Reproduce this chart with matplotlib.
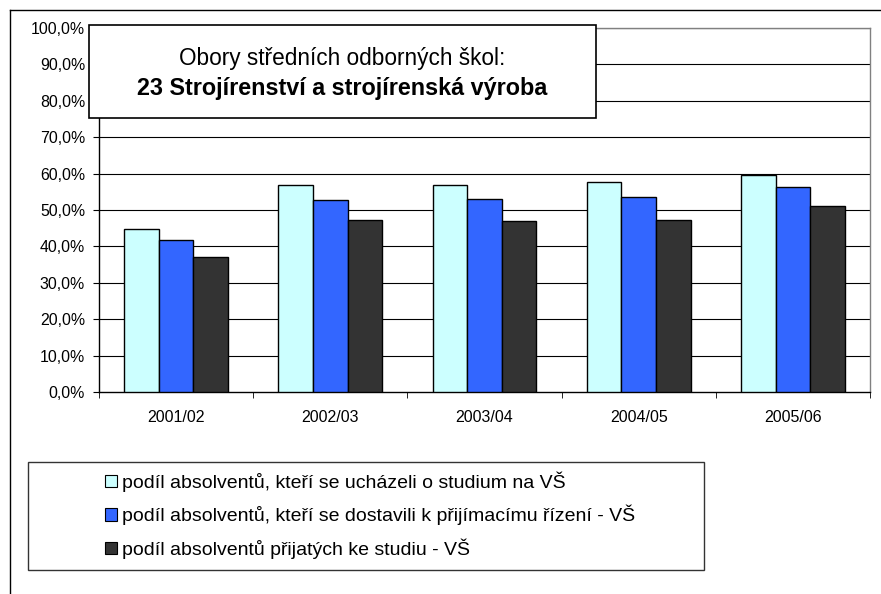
import matplotlib
matplotlib.use("Agg")
import matplotlib.pyplot as plt
from matplotlib.patches import Rectangle, Patch
from matplotlib.lines import Line2D
from matplotlib.ticker import FuncFormatter

plt.rcParams['font.family'] = ['Liberation Sans', 'DejaVu Sans']

categories = ["2001/02", "2002/03", "2003/04", "2004/05", "2005/06"]
applied = [44.9, 56.8, 56.8, 57.6, 59.7]
attended = [41.7, 52.7, 53.1, 53.5, 56.4]
admitted = [37.1, 47.3, 47.0, 47.3, 51.0]
series_labels = [
    "podíl absolventů, kteří se ucházeli o studium na VŠ",
    "podíl absolventů, kteří se dostavili k přijímacímu řízení - VŠ",
    "podíl absolventů přijatých ke studiu - VŠ",
]
colors = ["#CCFFFF", "#3366FF", "#333333"]
title1 = "Obory středních odborných škol:"
title2 = "23 Strojírenství a strojírenská výroba"

W, H = 881, 594
fig = plt.figure(figsize=(W / 100, H / 100), dpi=100)

def fx(px):
    return px / W

def fy(py):
    return 1 - py / H

ax = fig.add_axes([fx(99), fy(392), fx(870) - fx(99), fy(28) - fy(392)])
x = list(range(len(categories)))
bw = 0.224
for i, (vals, c) in enumerate(zip([applied, attended, admitted], colors)):
    ax.bar([xi + (i - 1) * bw for xi in x], vals, width=bw, color=c,
           edgecolor="black", linewidth=1.0, zorder=3)

ax.set_xlim(-0.5, len(categories) - 0.5)
ax.set_ylim(0, 100)
ax.set_yticks(range(0, 101, 10))
ax.yaxis.set_major_formatter(FuncFormatter(lambda v, p: f"{v:.1f}".replace(".", ",") + "%"))
ax.set_xticks(x)
ax.set_xticklabels(categories)
ax.set_xticks([i - 0.5 for i in range(len(categories) + 1)], minor=True)
ax.tick_params(axis="x", which="major", length=0, pad=13, labelsize=11.5)
ax.tick_params(axis="x", which="minor", length=4, direction="out")
ax.tick_params(axis="y", length=4, direction="out", labelsize=11.4, pad=6)
for v in range(10, 101, 10):
    ax.axhline(v, color="black", linewidth=0.8, zorder=1)
for s in ["top", "right"]:
    ax.spines[s].set_color("#808080")
    ax.spines[s].set_linewidth(1.0)
for s in ["left", "bottom"]:
    ax.spines[s].set_color("black")
    ax.spines[s].set_linewidth(1.0)

# Outer frame lines
fig.add_artist(Line2D([fx(10), fx(10)], [fy(10), 0], color="black", lw=1.0))
fig.add_artist(Line2D([fx(10), 1], [fy(10), fy(10)], color="black", lw=1.0))

# Title box
fig.add_artist(Rectangle((fx(89), fy(118)), fx(596) - fx(89), fy(25) - fy(118),
                         facecolor="white", edgecolor="black", lw=1.2, zorder=5))
fig.text(fx(342), fy(58), title1, ha="center", va="center", fontsize=16.3, zorder=6)
fig.text(fx(342), fy(89), title2, ha="center", va="center", fontsize=16.8,
         fontweight="bold", zorder=6)

# Legend box
fig.add_artist(Rectangle((fx(28), fy(570)), fx(704) - fx(28), fy(462) - fy(570),
                         facecolor="white", edgecolor="#333333", lw=1.0, zorder=5))
handles = [Patch(facecolor=c, edgecolor="black", linewidth=0.8) for c in colors]
leg = fig.legend(handles, series_labels, loc="upper left",
                 bbox_to_anchor=(fx(105), fy(471.5)), frameon=False, fontsize=14,
                 handlelength=0.6, handleheight=0.6, handletextpad=0.25,
                 labelspacing=0.66, borderaxespad=0, borderpad=0)
leg.set_zorder(6)

fig.savefig("out.png", dpi=100)
